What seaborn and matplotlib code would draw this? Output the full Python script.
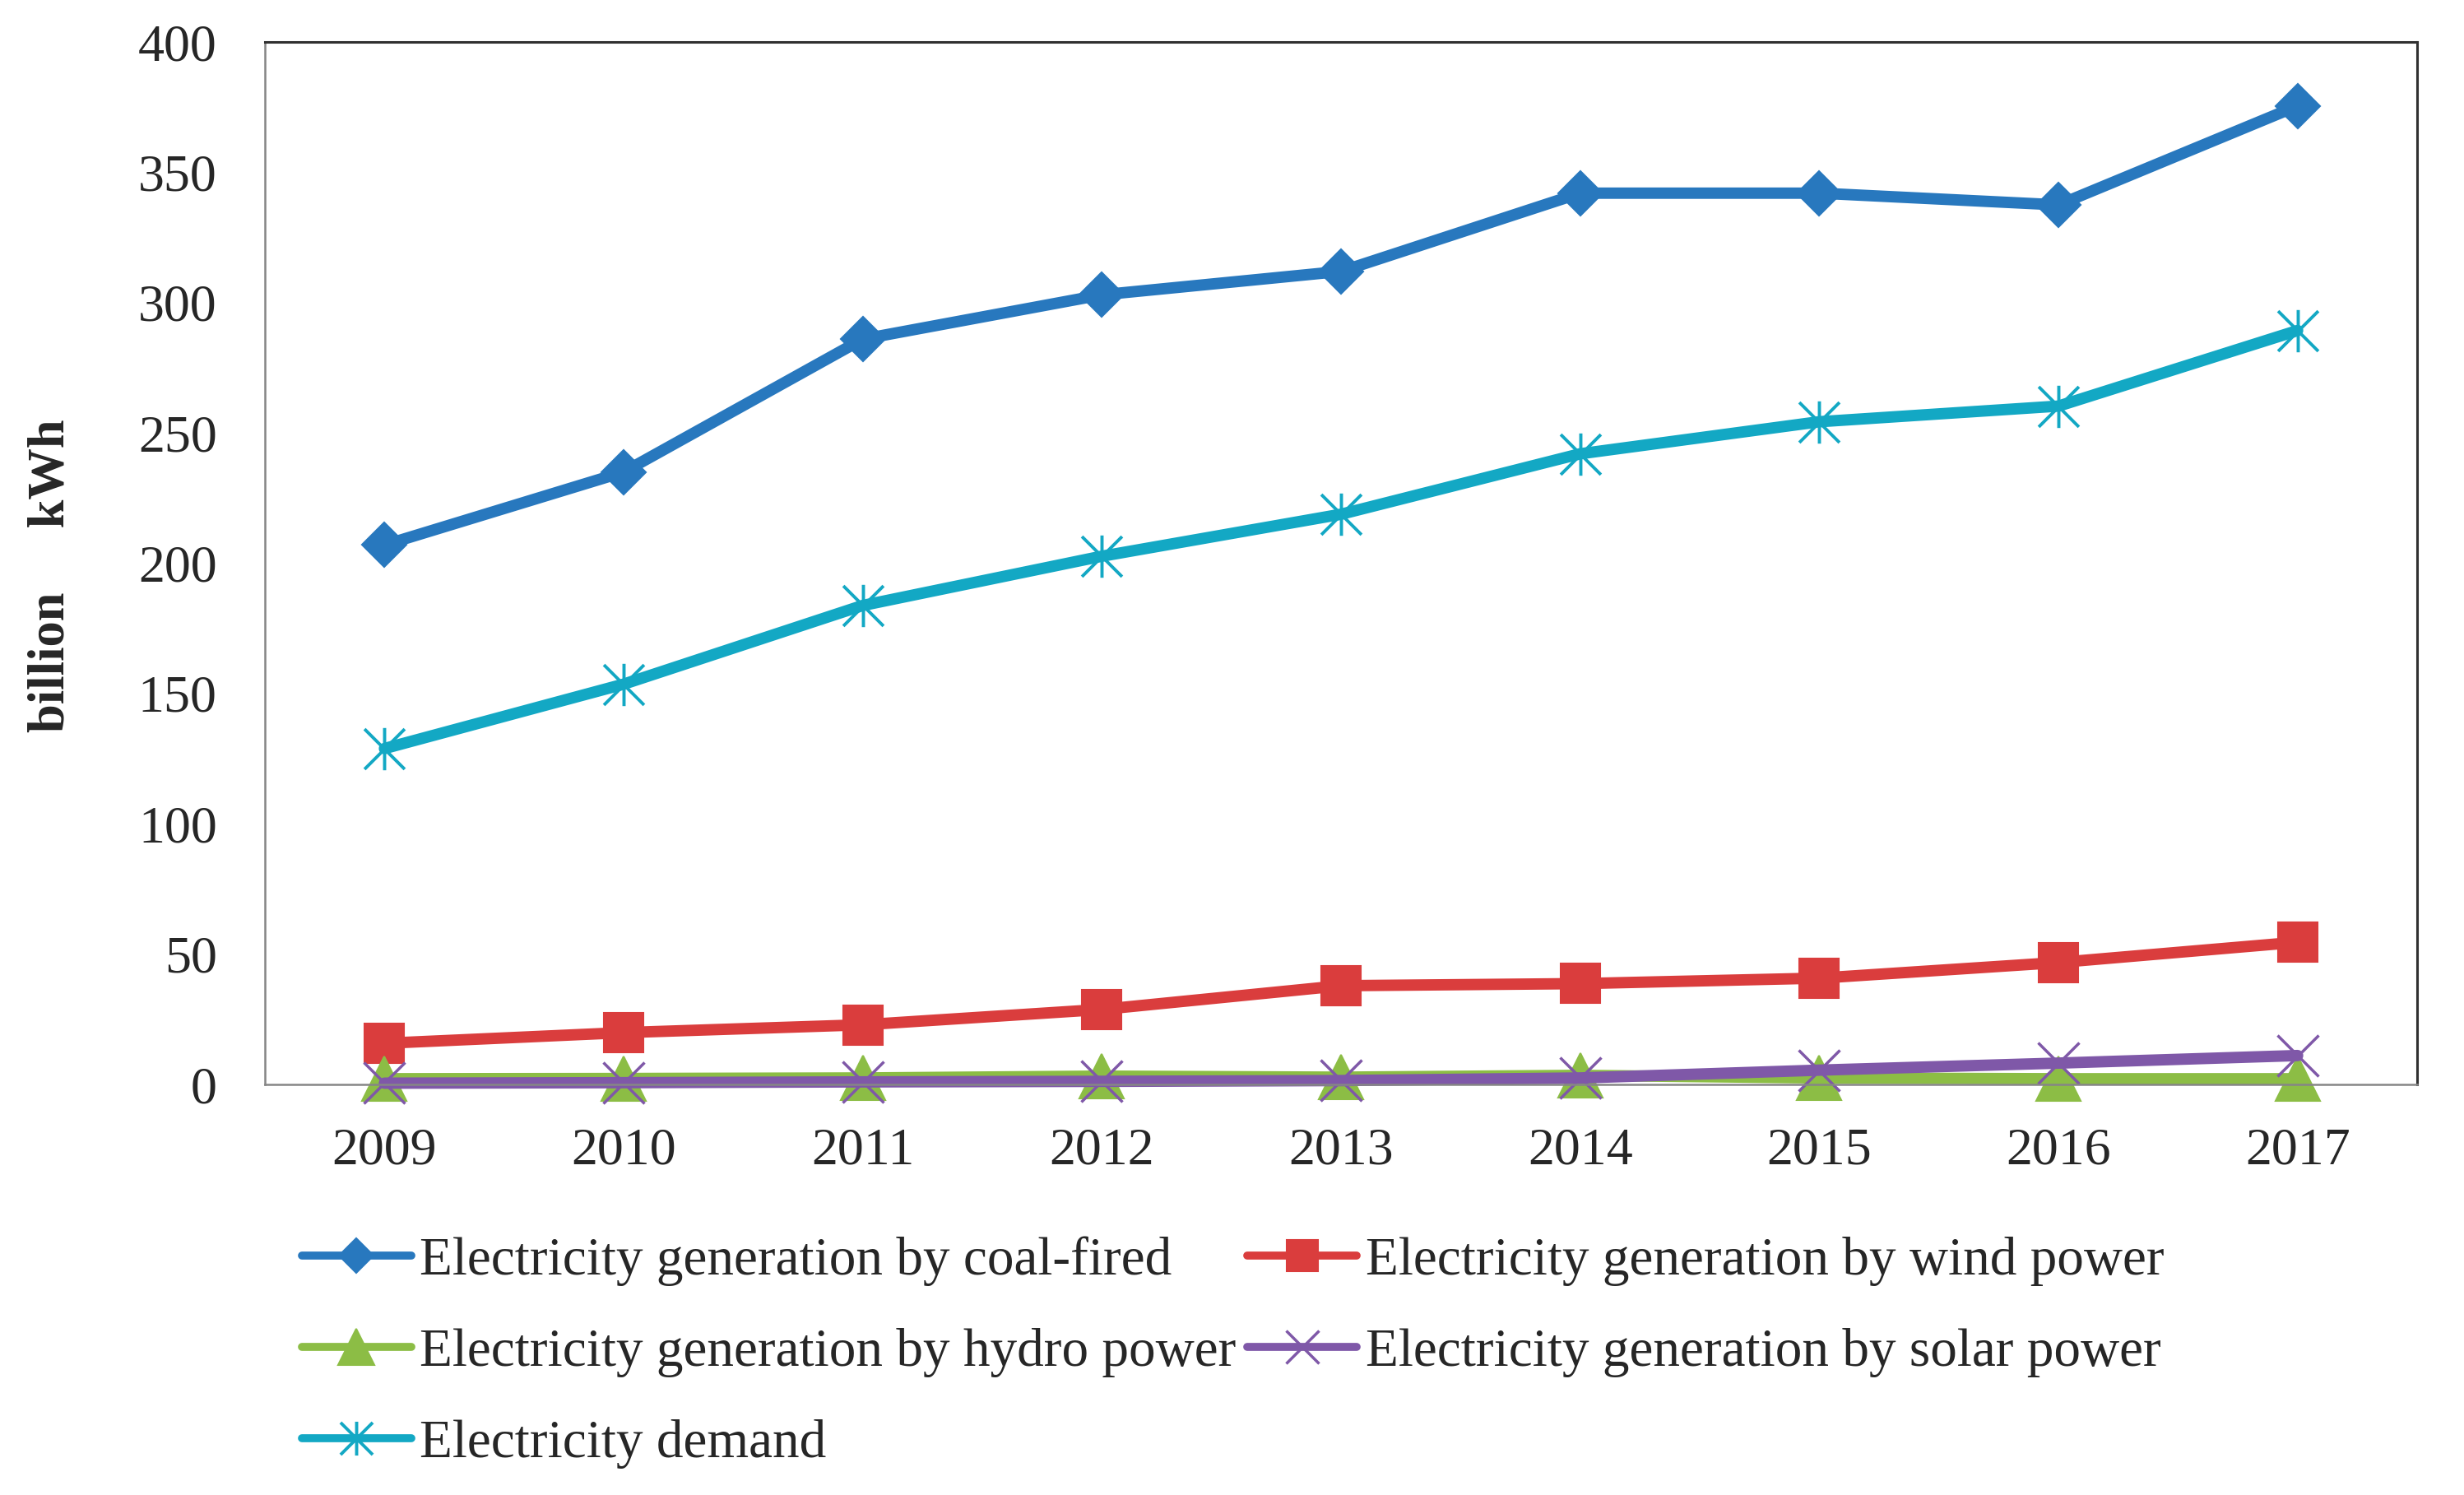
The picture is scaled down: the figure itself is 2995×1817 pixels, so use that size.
import numpy as np
import pandas as pd
import seaborn as sns
import matplotlib.pyplot as plt
from matplotlib.path import Path

# data (billion kWh)
years = ['2009', '2010', '2011', '2012', '2013', '2014', '2015', '2016', '2017']
coal = [207, 235, 286, 303, 312, 342, 342, 337.5, 375.5]
wind = [15.8, 19.9, 22.9, 28.8, 37.9, 38.7, 40.8, 46.8, 54.6]
hydro = [2.2, 2.3, 2.5, 3.2, 2.8, 3.5, 2.5, 2.2, 2.2]
solar = [0.5, 0.7, 1.0, 1.2, 1.5, 2.5, 5.5, 8.2, 11.1]
demand = [128.9, 153.6, 183.8, 202.7, 218.8, 242, 254.3, 260.3, 289.3]

labels = ['Electricity generation by coal-fired',
          'Electricity generation by wind power',
          'Electricity generation by hydro power',
          'Electricity generation by solar power',
          'Electricity demand']

sns.set_style("white")
plt.rcParams['font.family'] = ['Liberation Serif', 'DejaVu Serif']

df = pd.DataFrame({'x': np.arange(len(years)), 'coal': coal, 'wind': wind,
                   'hydro': hydro, 'solar': solar, 'demand': demand})

# excel style asterisk: vertical bar + X
star = Path([(0, -1), (0, 1), (-0.95, -0.95), (0.95, 0.95), (-0.95, 0.95), (0.95, -0.95)],
            [Path.MOVETO, Path.LINETO] * 3)

fig = plt.figure(figsize=(29.95, 18.17), dpi=100)
ax = fig.add_axes([0.1075, 0.2746, 0.8735, 0.6973])

lw = 10
common = dict(ax=ax, linewidth=lw, clip_on=False, solid_capstyle='round',
              solid_joinstyle='round')
sns.lineplot(data=df, x='x', y='coal', color='#2878BE', marker='D',
             markersize=27, markeredgecolor='#2878BE', markeredgewidth=1.5,
             label=labels[0], **common)
sns.lineplot(data=df, x='x', y='wind', color='#DA3D3D', marker='s',
             markersize=35, markeredgecolor='#DA3D3D', markeredgewidth=1.5,
             label=labels[1], **common)
sns.lineplot(data=df, x='x', y='hydro', color='#8CBD45', marker='^',
             markersize=39, markeredgecolor='#8CBD45', markeredgewidth=1.5,
             label=labels[2], **common)
sns.lineplot(data=df, x='x', y='solar', color='#7F58A8', marker='x',
             markersize=36, markeredgecolor='#7F58A8', markeredgewidth=2.5,
             label=labels[3], **common)
sns.lineplot(data=df, x='x', y='demand', color='#13A8C4', marker=star,
             markersize=37, markeredgecolor='#13A8C4', markeredgewidth=2.8,
             label=labels[4], **common)

if ax.get_legend() is not None:
    ax.get_legend().remove()

# axes like excel: categories between tick marks
ax.set_xlim(-0.5, len(years) - 0.5)
ax.set_ylim(0, 400)
ax.set_xticks(np.arange(len(years)))
ax.set_xticklabels(years)
ax.set_xticks(np.arange(len(years) + 1) - 0.5, minor=True)
ax.set_yticks(np.arange(0, 401, 50))
ax.tick_params(axis='x', which='major', length=0, pad=38, labelsize=46)
ax.tick_params(axis='x', which='minor', length=16, width=1.5, color='#868686', direction='out')
ax.tick_params(axis='y', length=16, width=1.5, color='#868686', direction='out',
               pad=26, labelsize=46)
ax.set_xlabel('')
ax.set_ylabel('billion     kWh', fontsize=45, fontweight='bold')
ax.yaxis.set_label_coords(-0.088, 0.488)

for s in ['left', 'bottom']:
    ax.spines[s].set_color('#868686')
    ax.spines[s].set_linewidth(1.8)
for s in ['top', 'right']:
    ax.spines[s].set_color('#303030')
    ax.spines[s].set_linewidth(2.2)

handles, labs = ax.get_legend_handles_labels()
order = [0, 2, 4, 1, 3]
leg = fig.legend([handles[i] for i in order], [labs[i] for i in order],
                 loc='upper left', bbox_to_anchor=(0.1225, 0.1732), ncol=2,
                 frameon=False, fontsize=47, handlelength=2.04, handletextpad=0.16,
                 columnspacing=0.2, labelspacing=0.78, borderpad=0, borderaxespad=0,
                 markerscale=0.8)
for ln in leg.get_lines():
    ln.set_linewidth(7)

fig.savefig('out.png', dpi=100, facecolor='white')
